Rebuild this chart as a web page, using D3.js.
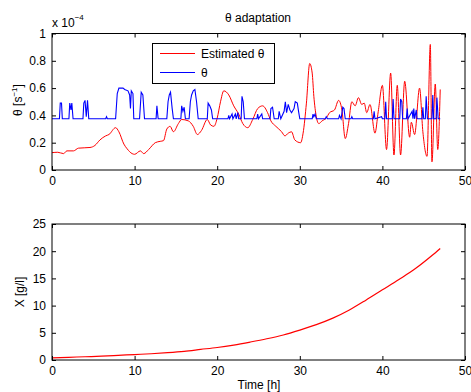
<!DOCTYPE html>
<html>
<head>
<meta charset="utf-8">
<title>theta adaptation</title>
<script src="https://cdn.jsdelivr.net/npm/d3@7"></script>
<style>
  body { margin: 0; background: #fff; }
  text { font-family: "Liberation Sans", Arial, sans-serif; font-size: 12px; fill: #000; }
</style>
</head>
<body>
<script>
// ---- data (theta values in units of 1e-4 s^-1) ----
var estT = [0, 0.7, 1.4, 1.8, 2.6, 3.2, 4.6, 5.2, 5.8, 6.5, 6.9, 7.7, 8.1, 8.7, 9.1, 9.7, 10.0, 10.7, 11.1, 11.7,
            12.5, 13.1, 13.5, 13.9, 14.3, 14.7, 15.3, 15.7, 16.5, 17.1, 17.6, 18.1, 18.8, 19.2, 19.6, 20.0, 20.4, 20.8,
            21.4, 22.0, 22.6, 23.1, 23.7, 24.3, 24.9, 25.5, 26.1, 26.5, 27.1, 27.8, 28.2, 28.6, 29.0, 29.4, 30.1, 30.4,
            30.8, 31.2, 31.5, 31.7, 32.0, 32.3, 32.7, 33.2, 33.6, 34.2, 34.7, 35.1, 35.5, 35.9, 36.3, 36.7, 37.1, 37.5,
            37.8, 38.1, 38.5, 39.1, 39.5, 40.0, 40.5, 41.0, 41.4, 41.8, 42.2, 42.7, 43.3, 43.5, 43.9, 44.5, 44.9, 45.4,
            45.8, 46.0, 46.4, 46.7, 47.0];
var estV = [0.127, 0.13, 0.12, 0.14, 0.14, 0.16, 0.165, 0.18, 0.22, 0.25, 0.26, 0.31, 0.28, 0.19, 0.155, 0.12, 0.115, 0.14, 0.12, 0.15,
            0.2, 0.21, 0.215, 0.3, 0.32, 0.28, 0.34, 0.37, 0.36, 0.32, 0.26, 0.29, 0.37, 0.33, 0.32, 0.38, 0.5, 0.58,
            0.55, 0.47, 0.41, 0.34, 0.31, 0.37, 0.45, 0.47, 0.42, 0.36, 0.32, 0.28, 0.25, 0.27, 0.28, 0.22, 0.2, 0.27,
            0.49, 0.78, 0.71, 0.54, 0.39, 0.34, 0.36, 0.38, 0.42, 0.44, 0.51, 0.44, 0.23, 0.34, 0.5, 0.47, 0.53, 0.48,
            0.49, 0.42, 0.48, 0.27, 0.43, 0.62, 0.15, 0.71, 0.11, 0.62, 0.11, 0.65, 0.24, 0.35, 0.26, 0.6, 0.28, 0.1,
            0.92, 0.06, 0.63, 0.15, 0.59];

var thT = [0, 0.9, 1.0, 1.15, 1.25, 2.05, 2.15, 2.3, 2.4, 2.55, 3.75, 3.85, 4.0, 4.15, 4.3, 4.45, 6.5, 6.6, 6.7,
           7.7, 7.9, 8.1, 8.6, 8.8, 9.2, 9.4, 9.5, 9.6, 9.8, 9.9, 10.6, 10.8, 11.0, 11.2, 12.6, 12.7, 12.85,
           13.9, 14.05, 14.2, 14.35, 14.55, 14.7, 15.6, 15.7, 15.85, 16.0, 16.15, 16.6, 16.75, 16.9, 17.1, 17.3, 17.5, 17.7,
           18.8, 18.9, 19.1, 19.3, 19.45, 21.3, 21.4, 21.5, 21.8, 21.9, 22.2, 22.3, 22.5, 22.6, 22.9, 23.0, 23.15, 23.3,
           24.8, 24.9, 25.0, 25.4, 25.5, 26.4, 26.5, 26.7, 26.9, 27.4, 27.5, 27.7, 28.1, 28.25, 28.4, 28.6, 28.8, 29.0,
           29.3, 29.45, 29.7, 29.85, 30.0, 31.5, 31.6, 31.7, 31.85, 32.0, 33.1, 33.2, 33.35, 34.7, 34.8, 35.0, 35.2,
           35.35, 35.5, 36.2, 36.3, 36.4, 38.9, 39.0, 39.1, 39.9, 40.0, 40.3, 40.4, 40.5, 41.2, 41.3, 41.4, 42.1, 42.2,
           42.35, 42.45, 42.9, 43.0, 43.1, 43.6, 43.7, 43.8, 43.9, 44.1, 44.2, 44.8, 44.9, 45.0, 45.2, 45.3, 45.45,
           46.0, 46.1, 46.2, 46.5, 46.6, 46.75, 47.0];
var thV = [0.375, 0.375, 0.49, 0.49, 0.375, 0.375, 0.49, 0.44, 0.49, 0.375, 0.375, 0.49, 0.51, 0.39, 0.51, 0.375, 0.375, 0.39, 0.375,
           0.375, 0.56, 0.6, 0.6, 0.59, 0.58, 0.55, 0.45, 0.58, 0.56, 0.375, 0.375, 0.57, 0.55, 0.375, 0.375, 0.47, 0.375,
           0.375, 0.5, 0.55, 0.57, 0.45, 0.375, 0.375, 0.47, 0.43, 0.46, 0.375, 0.375, 0.5, 0.55, 0.58, 0.59, 0.5, 0.375,
           0.375, 0.49, 0.47, 0.44, 0.375, 0.375, 0.4, 0.375, 0.41, 0.375, 0.41, 0.375, 0.42, 0.375, 0.375, 0.54, 0.5, 0.375,
           0.375, 0.41, 0.375, 0.41, 0.375, 0.375, 0.45, 0.46, 0.375, 0.375, 0.43, 0.375, 0.43, 0.5, 0.42, 0.48, 0.44, 0.42,
           0.45, 0.5, 0.49, 0.43, 0.375, 0.375, 0.41, 0.39, 0.41, 0.375, 0.375, 0.39, 0.375, 0.375, 0.4, 0.375, 0.46,
           0.45, 0.375, 0.375, 0.39, 0.375, 0.375, 0.43, 0.375, 0.39, 0.375, 0.375, 0.5, 0.375, 0.375, 0.52, 0.375, 0.375, 0.52,
           0.5, 0.375, 0.375, 0.45, 0.375, 0.43, 0.375, 0.45, 0.375, 0.44, 0.375, 0.375, 0.46, 0.375, 0.375, 0.54, 0.375,
           0.375, 0.55, 0.375, 0.375, 0.53, 0.375, 0.375];

var bioT = [0, 2, 4, 6, 8, 10, 12, 14, 16, 18, 20, 22, 24, 26, 28, 30, 32, 34, 36, 38, 40, 42, 44, 46, 47];
var bioV = [0.4, 0.5, 0.6, 0.7, 0.85, 1.0, 1.15, 1.35, 1.6, 1.95, 2.3, 2.75, 3.3, 3.9, 4.6, 5.5, 6.5, 7.7, 9.2, 11.0, 12.9, 14.8, 16.8, 19.2, 20.5];

var timeTicks = [0, 10, 20, 30, 40, 50];
var thetaTicks = [0, 0.2, 0.4, 0.6, 0.8, 1];
var bioTicks = [0, 5, 10, 15, 20, 25];

// ---- layout ----
var W = 471, H = 392;
var left = 52, right = 465;
var top1 = 33.5, bot1 = 170;
var top2 = 224, bot2 = 360;
var tickLen = 4;

var svg = d3.select("body").append("svg")
    .attr("width", W)
    .attr("height", H);

var x = d3.scaleLinear().domain([0, 50]).range([left, right]);
var y1 = d3.scaleLinear().domain([0, 1]).range([bot1, top1]);
var y2 = d3.scaleLinear().domain([0, 25]).range([bot2, top2]);

function drawAxes(y, yTicks, yFmt, top, bot) {
    var g = svg.append("g");
    // ticks on all four sides, pointing inward
    g.append("g").attr("transform", "translate(0," + bot + ")")
        .call(d3.axisBottom(x).tickValues(timeTicks).tickSize(-tickLen).tickPadding(6).tickFormat(d3.format("d")));
    g.append("g").attr("transform", "translate(0," + top + ")")
        .call(d3.axisTop(x).tickValues(timeTicks).tickSize(-tickLen).tickFormat(""));
    g.append("g").attr("transform", "translate(" + left + ",0)")
        .call(d3.axisLeft(y).tickValues(yTicks).tickSize(-tickLen).tickPadding(6).tickFormat(yFmt));
    g.append("g").attr("transform", "translate(" + right + ",0)")
        .call(d3.axisRight(y).tickValues(yTicks).tickSize(-tickLen).tickFormat(""));
    g.selectAll(".domain").remove();
    g.selectAll(".tick line").attr("stroke", "#000");
    g.selectAll(".tick text").style("font-size", "12px").attr("fill", "#000");
    g.append("rect")
        .attr("x", left).attr("y", top)
        .attr("width", right - left).attr("height", bot - top)
        .attr("fill", "none").attr("stroke", "#000").attr("stroke-width", 1);
}

function lineOf(xs, ys, y, curve) {
    return d3.line()
        .curve(curve || d3.curveLinear)
        .x(function(d, i) { return x(xs[i]); })
        .y(function(d, i) { return y(ys[i]); })(xs);
}

// ---- top plot ----
svg.append("path").attr("d", lineOf(estT, estV, y1, d3.curveMonotoneX))
    .attr("fill", "none").attr("stroke", "#ff0000").attr("stroke-width", 1);
svg.append("path").attr("d", lineOf(thT, thV, y1))
    .attr("fill", "none").attr("stroke", "#0000ff").attr("stroke-width", 1.1);

drawAxes(y1, thetaTicks, function(d) { return d === 0 || d === 1 ? d3.format("d")(d) : d3.format(".1f")(d); }, top1, bot1);

svg.append("text").attr("x", 258).attr("y", 22).attr("text-anchor", "middle")
    .text("\u03b8 adaptation");

var mult = svg.append("text").attr("x", left).attr("y", 27);
mult.append("tspan").text("x 10");
mult.append("tspan").attr("dy", -7).style("font-size", "8px").text("\u22124");

var yl1 = svg.append("text").attr("transform", "translate(22,100) rotate(-90)").attr("text-anchor", "middle");
yl1.append("tspan").text("\u03b8 [s");
yl1.append("tspan").attr("dy", -5).style("font-size", "8px").text("\u22121");
yl1.append("tspan").attr("dy", 5).text("]");

// legend
var lg = svg.append("g");
lg.append("rect").attr("x", 152.5).attr("y", 43.5).attr("width", 122).attr("height", 40)
    .attr("fill", "#fff").attr("stroke", "#000");
var legend = [{name: "Estimated \u03b8", color: "#ff0000"}, {name: "\u03b8", color: "#0000ff"}];
legend.forEach(function(d, i) {
    var yy = 53.5 + i * 19;
    lg.append("line").attr("x1", 160).attr("x2", 195).attr("y1", yy).attr("y2", yy)
        .attr("stroke", d.color).attr("stroke-width", 1);
    lg.append("text").attr("x", 201).attr("y", yy + 4.5).text(d.name);
});

// ---- bottom plot ----
svg.append("path").attr("d", lineOf(bioT, bioV, y2, d3.curveMonotoneX))
    .attr("fill", "none").attr("stroke", "#ff0000").attr("stroke-width", 1.2);

drawAxes(y2, bioTicks, d3.format("d"), top2, bot2);

svg.append("text").attr("transform", "translate(24,292) rotate(-90)").attr("text-anchor", "middle")
    .text("X [g/l]");
svg.append("text").attr("x", 259).attr("y", 388.5).attr("text-anchor", "middle")
    .text("Time [h]");
</script>
</body>
</html>
